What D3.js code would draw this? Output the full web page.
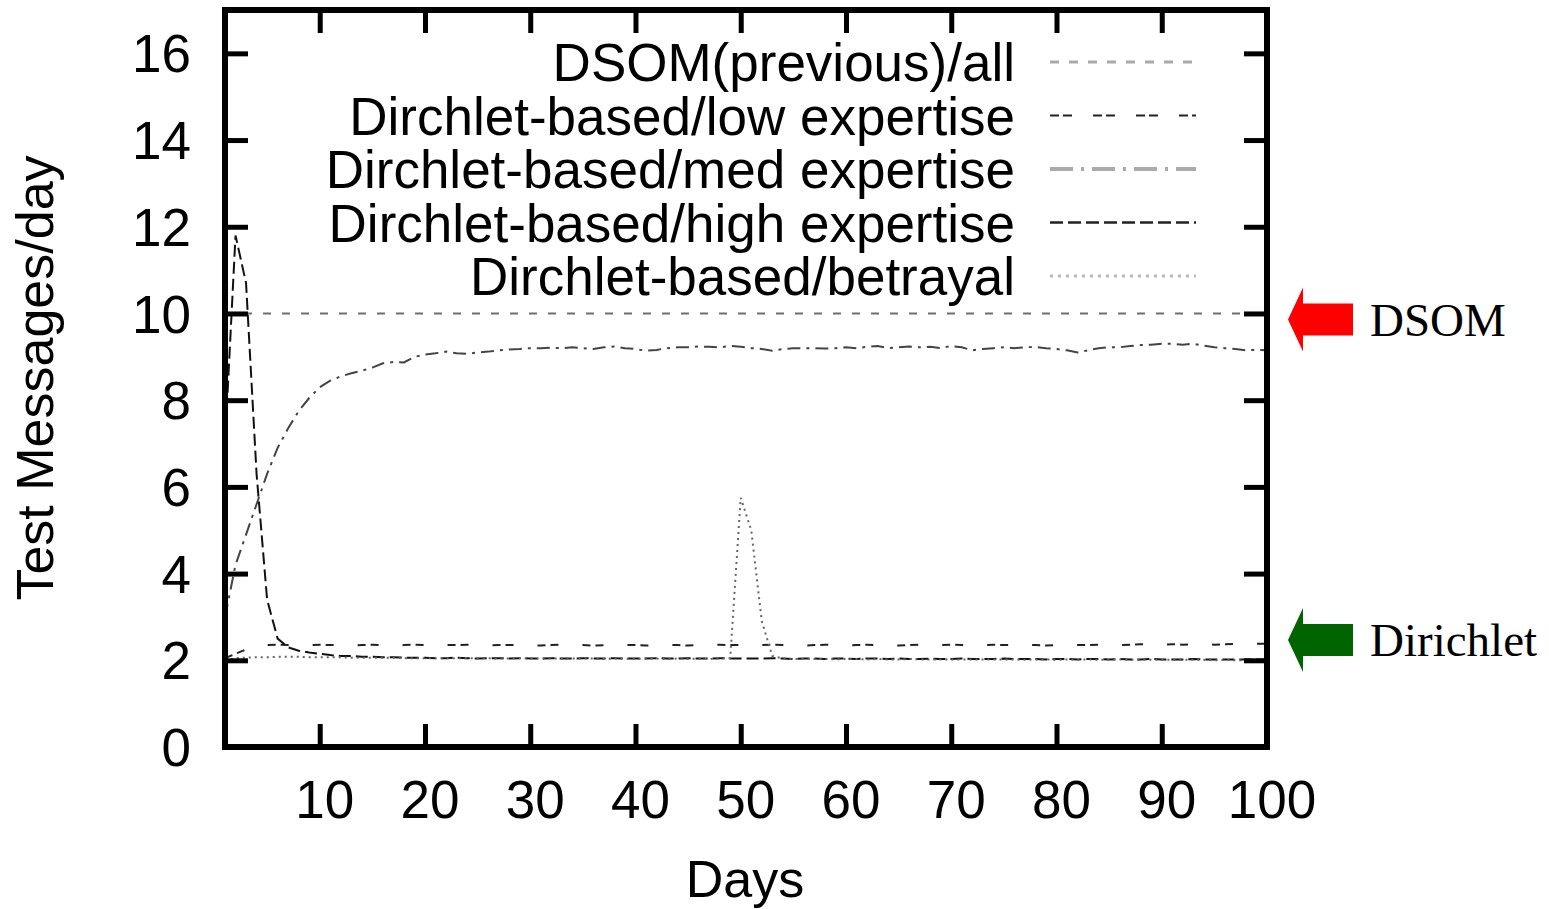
<!DOCTYPE html>
<html>
<head>
<meta charset="utf-8">
<script src="https://cdn.jsdelivr.net/npm/d3@7"></script>
<style>
  body { margin: 0; background: #fff; }
  svg { display: block; }
  text { font-family: "Liberation Sans", Arial, sans-serif; fill: #000; }
</style>
</head>
<body>
<script>
// days 1..100
const days = d3.range(1, 101)

const xTicks = [10, 20, 30, 40, 50, 60, 70, 80, 90, 100]
const yTicks = [0, 2, 4, 6, 8, 10, 12, 14, 16]

const seriesNames = [
    "DSOM(previous)/all",
    "Dirchlet-based/low expertise",
    "Dirchlet-based/med expertise",
    "Dirchlet-based/high expertise",
    "Dirchlet-based/betrayal"
]

const dsomAll = [
    10, 10, 10, 10, 10, 10, 10, 10, 10, 10,
    10, 10, 10, 10, 10, 10, 10, 10, 10, 10,
    10, 10, 10, 10, 10, 10, 10, 10, 10, 10,
    10, 10, 10, 10, 10, 10, 10, 10, 10, 10,
    10, 10, 10, 10, 10, 10, 10, 10, 10, 10,
    10, 10, 10, 10, 10, 10, 10, 10, 10, 10,
    10, 10, 10, 10, 10, 10, 10, 10, 10, 10,
    10, 10, 10, 10, 10, 10, 10, 10, 10, 10,
    10, 10, 10, 10, 10, 10, 10, 10, 10, 10,
    10, 10, 10, 10, 10, 10, 10, 10, 10, 10
]

const lowExpertise = [
    2.05, 2.15, 2.25, 2.33, 2.35, 2.36, 2.35, 2.34, 2.35, 2.36,
    2.35, 2.35, 2.34, 2.35, 2.36, 2.35, 2.34, 2.35, 2.36, 2.35,
    2.34, 2.35, 2.35, 2.36, 2.35, 2.34, 2.35, 2.35, 2.36, 2.35,
    2.34, 2.35, 2.36, 2.35, 2.35, 2.34, 2.35, 2.36, 2.35, 2.35,
    2.34, 2.35, 2.36, 2.35, 2.34, 2.35, 2.35, 2.36, 2.35, 2.35,
    2.34, 2.35, 2.36, 2.35, 2.35, 2.34, 2.35, 2.36, 2.35, 2.34,
    2.35, 2.36, 2.35, 2.35, 2.34, 2.35, 2.36, 2.35, 2.35, 2.36,
    2.35, 2.34, 2.35, 2.36, 2.35, 2.35, 2.36, 2.35, 2.34, 2.35,
    2.36, 2.35, 2.35, 2.36, 2.35, 2.35, 2.36, 2.37, 2.36, 2.36,
    2.37, 2.36, 2.37, 2.37, 2.36, 2.37, 2.38, 2.37, 2.38, 2.38
]

const medExpertise = [
    3.0, 4.2, 4.9, 5.6, 6.3, 6.9, 7.35, 7.75, 8.05, 8.3,
    8.45, 8.55, 8.62, 8.68, 8.75, 8.85, 8.88, 8.87, 9.0, 9.05,
    9.08, 9.12, 9.08, 9.07, 9.1, 9.12, 9.15, 9.17, 9.18, 9.2,
    9.2, 9.21, 9.2, 9.22, 9.2, 9.18, 9.22, 9.24, 9.2, 9.18,
    9.14, 9.16, 9.2, 9.22, 9.22, 9.24, 9.23, 9.22, 9.25, 9.23,
    9.2, 9.18, 9.14, 9.18, 9.2, 9.2, 9.2, 9.19, 9.2, 9.22,
    9.2, 9.23, 9.25, 9.2, 9.22, 9.24, 9.22, 9.23, 9.2, 9.25,
    9.22, 9.15, 9.18, 9.2, 9.22, 9.2, 9.22, 9.23, 9.2, 9.18,
    9.15, 9.1, 9.15, 9.2, 9.22, 9.22, 9.25, 9.27, 9.28, 9.3,
    9.3, 9.28, 9.3, 9.26, 9.22, 9.2, 9.18, 9.15, 9.16, 9.15
]

const highExpertise = [
    7.0, 11.8, 10.7, 6.3, 3.4, 2.5, 2.3, 2.22, 2.18, 2.15,
    2.12, 2.1, 2.1, 2.08, 2.08, 2.07, 2.07, 2.06, 2.06, 2.06,
    2.05, 2.05, 2.06, 2.05, 2.04, 2.05, 2.05, 2.04, 2.05, 2.04,
    2.04, 2.05, 2.04, 2.04, 2.05, 2.04, 2.04, 2.05, 2.04, 2.04,
    2.04, 2.05, 2.04, 2.04, 2.05, 2.04, 2.04, 2.05, 2.04, 2.04,
    2.04, 2.04, 2.05, 2.04, 2.03, 2.04, 2.04, 2.03, 2.04, 2.04,
    2.03, 2.04, 2.04, 2.03, 2.04, 2.03, 2.03, 2.04, 2.03, 2.03,
    2.04, 2.03, 2.03, 2.03, 2.04, 2.03, 2.03, 2.03, 2.02, 2.03,
    2.03, 2.02, 2.03, 2.03, 2.02, 2.03, 2.02, 2.02, 2.03, 2.02,
    2.02, 2.02, 2.03, 2.02, 2.02, 2.02, 2.02, 2.02, 2.02, 2.02
]

const betrayal = [
    2.0, 2.05, 2.06, 2.07, 2.07, 2.08, 2.08, 2.08, 2.07, 2.07,
    2.07, 2.07, 2.06, 2.06, 2.06, 2.06, 2.06, 2.05, 2.05, 2.05,
    2.05, 2.05, 2.05, 2.05, 2.04, 2.05, 2.04, 2.04, 2.05, 2.04,
    2.04, 2.04, 2.04, 2.04, 2.04, 2.04, 2.03, 2.04, 2.04, 2.03,
    2.04, 2.04, 2.03, 2.04, 2.03, 2.04, 2.03, 2.04, 2.05, 5.75,
    5.0, 2.9, 2.1, 2.04, 2.03, 2.03, 2.03, 2.03, 2.02, 2.03,
    2.03, 2.02, 2.03, 2.02, 2.02, 2.03, 2.02, 2.02, 2.02, 2.02,
    2.02, 2.02, 2.02, 2.02, 2.02, 2.02, 2.01, 2.02, 2.02, 2.01,
    2.02, 2.01, 2.02, 2.01, 2.01, 2.02, 2.01, 2.01, 2.01, 2.01,
    2.01, 2.01, 2.01, 2.01, 2.0, 2.01, 2.0, 2.0, 2.0, 2.0
]

const seriesValues = [dsomAll, lowExpertise, medExpertise, highExpertise, betrayal]

// right-side labels with the value they point to
const noteLabels = ["DSOM", "Dirichlet"]
const noteValues = [9.86, 2.47]
const noteColors = ["#ff0000", "#006400"]

// line styles: plot / legend
const plotStyle = [
    { stroke: "#6f6f6f", width: 2, dash: "8,11" },
    { stroke: "#222", width: 2, dash: "8,5,8,24" },
    { stroke: "#444", width: 2, dash: "13,6,3,6" },
    { stroke: "#111", width: 2, dash: "12,5" },
    { stroke: "#666", width: 2, dash: "2,4" }
]
const legendStyle = [
    { stroke: "#aaa", width: 3, dash: "9,10" },
    { stroke: "#222", width: 2, dash: "9,4,9,21" },
    { stroke: "#aaa", width: 4, dash: "23,8,3,8" },
    { stroke: "#222", width: 2.5, dash: "13,5" },
    { stroke: "#bbb", width: 3, dash: "3,5" }
]

const W = 1549
const H = 909
const plotL = 225, plotR = 1267, plotT = 10, plotB = 747

const svg = d3.select("body")
    .append("svg")
    .attr("width", W)
    .attr("height", H)

const x = d3.scaleLinear().domain([1, 100]).range([plotL, plotR])
const y = d3.scaleLinear().domain([0, 17]).range([plotB, plotT])

const line = d3.line()
    .x((d, i) => x(days[i]))
    .y(d => y(d))

// series
svg.append("g")
    .selectAll("path")
    .data(seriesValues)
    .enter()
    .append("path")
    .attr("d", d => line(d))
    .attr("fill", "none")
    .attr("stroke", (d, i) => plotStyle[i].stroke)
    .attr("stroke-width", (d, i) => plotStyle[i].width)
    .attr("stroke-dasharray", (d, i) => plotStyle[i].dash)

// ticks (inward, mirrored on all sides)
const tickLen = 23
const axes = svg.append("g")
axes.append("g")
    .attr("transform", `translate(0,${plotB})`)
    .call(d3.axisTop(x).tickValues(xTicks).tickSize(tickLen).tickFormat(""))
axes.append("g")
    .attr("transform", `translate(0,${plotT})`)
    .call(d3.axisBottom(x).tickValues(xTicks).tickSize(tickLen).tickFormat(""))
axes.append("g")
    .attr("transform", `translate(${plotL},0)`)
    .call(d3.axisRight(y).tickValues(yTicks).tickSize(tickLen).tickFormat(""))
axes.append("g")
    .attr("transform", `translate(${plotR},0)`)
    .call(d3.axisLeft(y).tickValues(yTicks).tickSize(tickLen).tickFormat(""))
axes.selectAll(".domain").remove()
axes.selectAll(".tick line")
    .attr("stroke", "#000")
    .attr("stroke-width", 5)

// frame
svg.append("rect")
    .attr("x", plotL)
    .attr("y", plotT)
    .attr("width", plotR - plotL)
    .attr("height", plotB - plotT)
    .attr("fill", "none")
    .attr("stroke", "#000")
    .attr("stroke-width", 6)

// tick labels
svg.append("g")
    .selectAll("text")
    .data(xTicks)
    .enter()
    .append("text")
    .attr("x", d => x(d) + 5)
    .attr("y", 818)
    .attr("text-anchor", "middle")
    .attr("font-size", 53)
    .text(d => d)

svg.append("g")
    .selectAll("text")
    .data(yTicks)
    .enter()
    .append("text")
    .attr("x", 191)
    .attr("y", d => y(d))
    .attr("dy", "0.36em")
    .attr("text-anchor", "end")
    .attr("font-size", 53)
    .text(d => d)

// axis titles
svg.append("text")
    .attr("x", 745)
    .attr("y", 897)
    .attr("text-anchor", "middle")
    .attr("font-size", 52)
    .text("Days")

svg.append("text")
    .attr("transform", "translate(53,378) rotate(-90)")
    .attr("text-anchor", "middle")
    .attr("font-size", 52)
    .text("Test Messages/day")

// legend
const legendY0 = 62, legendStep = 53.5
const leg = svg.append("g")
    .selectAll("g")
    .data(seriesNames)
    .enter()
    .append("g")
    .attr("transform", (d, i) => `translate(0,${legendY0 + i * legendStep})`)

leg.append("text")
    .attr("x", 1015)
    .attr("y", 0)
    .attr("dy", "0.36em")
    .attr("text-anchor", "end")
    .attr("font-size", 53)
    .text(d => d)

leg.append("line")
    .attr("x1", 1050)
    .attr("x2", 1196)
    .attr("y1", 0)
    .attr("y2", 0)
    .attr("stroke", (d, i) => legendStyle[i].stroke)
    .attr("stroke-width", (d, i) => legendStyle[i].width)
    .attr("stroke-dasharray", (d, i) => legendStyle[i].dash)

// arrows with notes
const notes = svg.append("g")
    .selectAll("g")
    .data(noteLabels)
    .enter()
    .append("g")
    .attr("transform", (d, i) => `translate(1288,${y(noteValues[i])})`)

notes.append("path")
    .attr("d", "M0,0 L15,-32 L15,-16 L65,-16 L65,16 L15,16 L15,32 Z")
    .attr("fill", (d, i) => noteColors[i])

notes.append("text")
    .attr("x", 82)
    .attr("y", 0)
    .attr("dy", "0.34em")
    .attr("font-size", 47)
    .style("font-family", "'Liberation Serif', 'Times New Roman', serif")
    .text(d => d)
</script>
</body>
</html>
